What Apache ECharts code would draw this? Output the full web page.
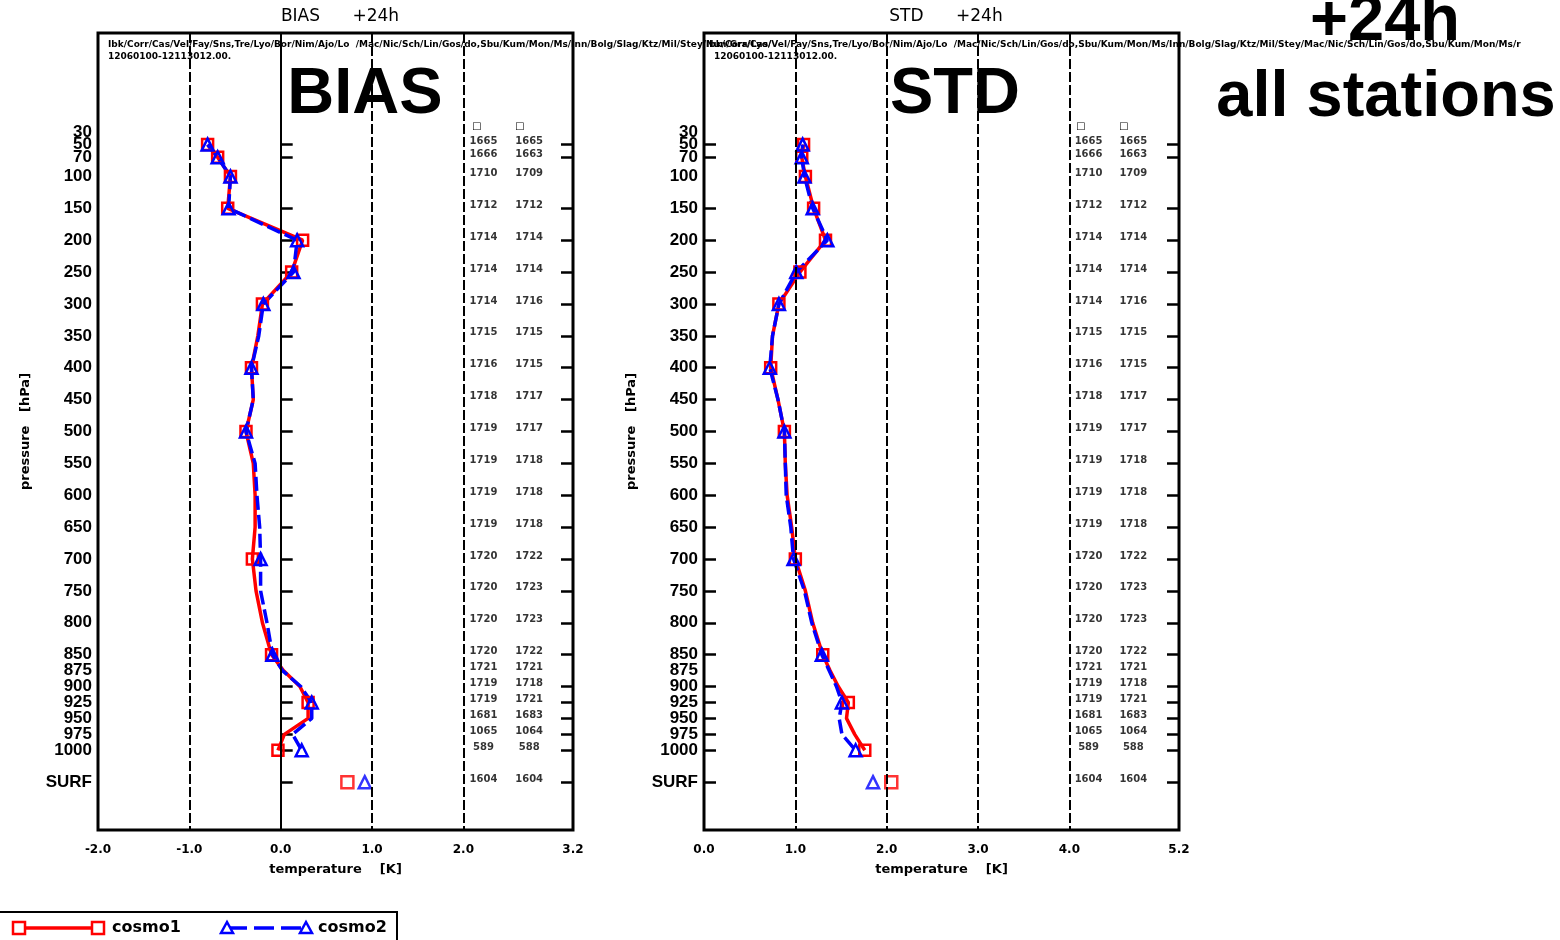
<!DOCTYPE html>
<html><head><meta charset="utf-8">
<script src="https://cdn.jsdelivr.net/npm/echarts@6/dist/echarts.min.js"></script>
<style>html,body{margin:0;padding:0;background:#fff}#c{width:1560px;height:940px}</style>
</head><body><div id="c"></div>
<script>
// ---------------- data ----------------
const levels = [50,70,100,150,200,250,300,350,400,450,500,550,600,650,700,750,800,850,875,900,925,950,975,1000];
const markerLevels = [50,70,100,150,200,250,300,400,500,700,850,925,1000];
const SURF_P = 1050;
// tick-label levels (100 listed first so the crowded 30/50/70 labels are not treated as the axis' first pair)
const labelLevels = [100,30,50,70,150,200,250,300,350,400,450,500,550,600,650,700,750,800,850,875,900,925,950,975,1000,SURF_P];
const tickLevels = [50,70,150,200,250,300,350,400,450,500,550,600,650,700,750,800,850,900,925,950,975,1000,SURF_P];

const biasCosmo1 = [-0.80,-0.69,-0.55,-0.58,0.24,0.12,-0.20,-0.25,-0.32,-0.30,-0.38,-0.30,-0.28,-0.28,-0.31,-0.27,-0.20,-0.10,0.03,0.21,0.30,0.30,0.04,-0.03];
const biasCosmo2 = [-0.80,-0.69,-0.55,-0.57,0.18,0.14,-0.19,-0.24,-0.32,-0.30,-0.38,-0.28,-0.26,-0.23,-0.22,-0.22,-0.15,-0.09,0.02,0.22,0.34,0.34,0.13,0.23];
const stdCosmo1  = [1.09,1.07,1.11,1.20,1.33,1.05,0.82,0.75,0.73,0.81,0.88,0.89,0.91,0.96,1.00,1.11,1.19,1.30,1.38,1.47,1.58,1.56,1.65,1.76];
const stdCosmo2  = [1.08,1.07,1.10,1.19,1.35,1.01,0.82,0.75,0.72,0.81,0.88,0.89,0.90,0.95,0.98,1.10,1.18,1.29,1.37,1.45,1.51,1.48,1.51,1.66];
const surfBias = [0.73, 0.92];   // cosmo1, cosmo2
const surfStd  = [2.05, 1.85];   // cosmo1, cosmo2

const countLevels = [50,70,100,150,200,250,300,350,400,450,500,550,600,650,700,750,800,850,875,900,925,950,975,1000,SURF_P];
const countsCosmo1 = [1665,1666,1710,1712,1714,1714,1714,1715,1716,1718,1719,1719,1719,1719,1720,1720,1720,1720,1721,1719,1719,1681,1065,589,1604];
const countsCosmo2 = [1665,1663,1709,1712,1714,1714,1716,1715,1715,1717,1717,1718,1718,1718,1722,1723,1723,1722,1721,1718,1721,1683,1064,588,1604];

const biasTicks = [-2,-1,0,1,2,3.2];
const stdTicks  = [0,1,2,3,4,5.2];
const biasVLines = [-1,0,1,2];
const stdVLines  = [1,2,3,4];

// ---------------- helpers ----------------
const RED = '#ff0000', BLUE = '#0000ff';
const profile = vals => levels.map((p,i) => markerLevels.includes(p)
  ? {value:[vals[i], p]} : {value:[vals[i], p], symbol:'none'});

function yAxisDef(gridIndex, position, labels){
  return {
    type:'value', gridIndex, position, inverse:true, min:-125, max:1125,
    axisLine:{show:false}, splitLine:{show:false},
    axisTick:{show:true, inside:true, length:12, customValues:tickLevels, lineStyle:{color:'#000', width:2.5}},
    axisLabel:{show:labels, customValues:labelLevels, margin:6, hideOverlap:false,
      showMinLabel:true, showMaxLabel:true,
      formatter: v => v === SURF_P ? 'SURF' : String(v),
      fontFamily:'Liberation Sans', fontWeight:'bold', fontSize:17, color:'#000'},
    name: labels ? 'pressure   [hPa]' : '', nameLocation:'middle', nameRotate:90, nameGap:66,
    nameTextStyle:{fontFamily:'DejaVu Sans', fontWeight:'bold', fontSize:13, color:'#000'}
  };
}
function xAxisDef(gridIndex, min, max, ticks){
  return {
    type:'value', gridIndex, min, max,
    axisLine:{show:false}, axisTick:{show:false}, splitLine:{show:false},
    axisLabel:{customValues:ticks, formatter: v => v.toFixed(1), margin:14, hideOverlap:false,
      showMinLabel:true, showMaxLabel:true,
      fontFamily:'DejaVu Sans', fontWeight:'bold', fontSize:12, color:'#000'},
    name:'temperature    [K]', nameLocation:'middle', nameGap:33,
    nameTextStyle:{fontFamily:'DejaVu Sans', fontWeight:'bold', fontSize:13, color:'#000'}
  };
}
function vlineSeries(xi, yi, vals, solidZero){
  return {type:'line', xAxisIndex:xi, yAxisIndex:yi, data:[], z:1, silent:true,
    markLine:{symbol:'none', silent:true, animation:false, label:{show:false},
      data: vals.map(v => ({xAxis:v, lineStyle:{color:'#000', width:2,
        type: (solidZero && v === 0) ? 'solid' : [10,3]}}))}};
}
function lineSeries(name, xi, yi, vals, color, symbol, dashed){
  return {name, type:'line', xAxisIndex:xi, yAxisIndex:yi, data:profile(vals), z:3,
    symbol, symbolSize: symbol === 'rect' ? 11 : 12, showSymbol:true,
    itemStyle:{color:'rgba(255,255,255,0)', borderColor:color, borderWidth:2.5},
    lineStyle:{color, width:3.5, type: dashed ? [14,5] : 'solid'}};
}
function surfSeries(xi, yi, val, color, symbol){
  return {type:'scatter', xAxisIndex:xi, yAxisIndex:yi, data:[[val, SURF_P]], z:3,
    symbol, symbolSize: 12,
    itemStyle:{color:'rgba(255,255,255,0)', borderColor:color, borderWidth:2.5}};
}
function countSeries(xi, yi, xpos, counts){
  return {type:'scatter', xAxisIndex:xi, yAxisIndex:yi, z:2, silent:true, symbolSize:1,
    itemStyle:{color:'rgba(0,0,0,0)'},
    data: countLevels.map((p,i) => [xpos, p, counts[i]]),
    label:{show:true, position:'inside', offset:[0,-3], formatter: d => String(d.value[2]),
      fontFamily:'DejaVu Sans', fontWeight:'bold', fontSize:10, color:'#000'}};
}

const stations = 'Ibk/Corr/Cas/Vel/Fay/Sns,Tre/Lyo/Bor/Nim/Ajo/Lo  /Mac/Nic/Sch/Lin/Gos/do,Sbu/Kum/Mon/Ms/Inn/Bolg/Slag/Ktz/Mil/Stey/Nun/Gra/Lyo/';
const stations2 = 'Ibk/Corr/Cas/Vel/Fay/Sns,Tre/Lyo/Bor/Nim/Ajo/Lo  /Mac/Nic/Sch/Lin/Gos/do,Sbu/Kum/Mon/Ms/Inn/Bolg/Slag/Ktz/Mil/Stey/';
const period = '12060100-12113012.00.';

const T = (x, y, text, font, align) => ({type:'text', x, y, z:10, silent:true,
  style:{text, font, fill:'#000', textAlign:align || 'left', textVerticalAlign:'middle'}});
const BIG = (x, y, text) => ({type:'text', x, y, z:10, silent:true,
  style:{text, font:'bold 65px "Liberation Sans"', fill:'#000', textAlign:'center', textVerticalAlign:'middle'}});

const option = {
  animation:false,
  backgroundColor:'#fff',
  grid:[
    {left:98, top:33, width:475, height:797, show:true, borderColor:'#000', borderWidth:3, backgroundColor:'rgba(0,0,0,0)'},
    {left:704, top:33, width:475, height:797, show:true, borderColor:'#000', borderWidth:3, backgroundColor:'rgba(0,0,0,0)'}
  ],
  xAxis:[ xAxisDef(0, -2, 3.2, biasTicks), xAxisDef(1, 0, 5.2, stdTicks) ],
  yAxis:[ yAxisDef(0,'left',true), yAxisDef(0,'right',false), yAxisDef(1,'left',true), yAxisDef(1,'right',false) ],
  series:[
    vlineSeries(0, 0, biasVLines, true),
    vlineSeries(1, 2, stdVLines, false),
    lineSeries('cosmo1', 0, 0, biasCosmo1, RED, 'rect', false),
    lineSeries('cosmo2', 0, 0, biasCosmo2, BLUE, 'triangle', true),
    lineSeries('cosmo1', 1, 2, stdCosmo1, RED, 'rect', false),
    lineSeries('cosmo2', 1, 2, stdCosmo2, BLUE, 'triangle', true),
    surfSeries(0, 0, surfBias[0], RED, 'rect'),
    surfSeries(0, 0, surfBias[1], BLUE, 'triangle'),
    surfSeries(1, 2, surfStd[0], RED, 'rect'),
    surfSeries(1, 2, surfStd[1], BLUE, 'triangle'),
    countSeries(0, 0, 2.22, countsCosmo1),
    countSeries(0, 0, 2.72, countsCosmo2),
    countSeries(1, 2, 4.21, countsCosmo1),
    countSeries(1, 2, 4.70, countsCosmo2)
  ],
  graphic:[
    T(340, 17, 'BIAS      +24h', '17px "DejaVu Sans"', 'center'),
    T(946, 17, 'STD      +24h', '17px "DejaVu Sans"', 'center'),
    T(108, 45, stations, 'bold 9px "DejaVu Sans"'),
    T(108, 57, period, 'bold 9px "DejaVu Sans"'),
    T(706, 45, stations2 + 'Mac/Nic/Sch/Lin/Gos/do,Sbu/Kum/Mon/Ms/r', 'bold 9px "DejaVu Sans"'),
    T(714, 57, period, 'bold 9px "DejaVu Sans"'),
    T(472, 126, '\u25A1', 'bold 10px "DejaVu Sans"'),
    T(515, 126, '\u25A1', 'bold 10px "DejaVu Sans"'),
    T(1076, 126, '\u25A1', 'bold 10px "DejaVu Sans"'),
    T(1119, 126, '\u25A1', 'bold 10px "DejaVu Sans"'),
    BIG(365, 95, 'BIAS'),
    BIG(955, 95, 'STD'),
    BIG(1385, 22, '+24h'),
    BIG(1386, 98, 'all stations'),
    // legend
    {type:'rect', z:10, silent:true, shape:{x:-3, y:912, width:400, height:40}, style:{fill:'#fff', stroke:'#000', lineWidth:2}},
    {type:'line', z:11, silent:true, shape:{x1:19, y1:928, x2:98, y2:928}, style:{stroke:RED, lineWidth:3.5}},
    {type:'rect', z:12, silent:true, shape:{x:13, y:922, width:12, height:12}, style:{fill:'#fff', stroke:RED, lineWidth:2.5}},
    {type:'rect', z:12, silent:true, shape:{x:92, y:922, width:12, height:12}, style:{fill:'#fff', stroke:RED, lineWidth:2.5}},
    T(112, 928, 'cosmo1', 'bold 16px "DejaVu Sans"'),
    {type:'line', z:11, silent:true, shape:{x1:227, y1:928, x2:306, y2:928}, style:{stroke:BLUE, lineWidth:3.5, lineDash:[20,7]}},
    {type:'polygon', z:12, silent:true, shape:{points:[[227,922],[221,933],[233,933]]}, style:{fill:'#fff', stroke:BLUE, lineWidth:2.5}},
    {type:'polygon', z:12, silent:true, shape:{points:[[306,922],[300,933],[312,933]]}, style:{fill:'#fff', stroke:BLUE, lineWidth:2.5}},
    T(318, 928, 'cosmo2', 'bold 16px "DejaVu Sans"')
  ]
};
const chart = echarts.init(document.getElementById('c'));
chart.setOption(option);
</script>
</body></html>
